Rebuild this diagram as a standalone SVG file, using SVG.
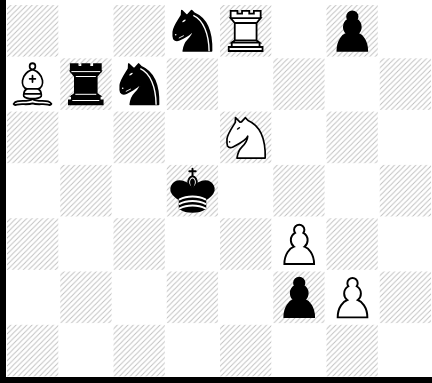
<svg xmlns="http://www.w3.org/2000/svg" width="432" height="383" viewBox="0 0 432 383">
<defs>
<pattern id="h" patternUnits="userSpaceOnUse" width="5.33" height="5.33"><path d="M-1.33 1.33L1.33 -1.33M0 5.33L5.33 0M4 6.66L6.66 4" stroke="#bebebe" stroke-width="0.9" fill="none"/></pattern>
<path id="pawn" d="M22.5 9c-2.21 0-4 1.79-4 4 0 .89.29 1.71.78 2.38C17.33 16.5 16 18.59 16 21c0 2.03.94 3.84 2.41 5.03-3 1.06-7.41 5.55-7.41 13.47h23c0-7.92-4.41-12.41-7.41-13.47 1.47-1.19 2.41-3 2.41-5.03 0-2.41-1.33-4.5-3.28-5.62.49-.67.78-1.49.78-2.38 0-2.21-1.79-4-4-4z" stroke="#000" stroke-width="1.5" stroke-linecap="round"/>
<path id="kn" d="M21.7 19.3C21.5 24 19 27 16 30C13 33 11.5 37 11 41.2L39.2 41.2C39.6 26 37 10 22 3.6L19.3 .8L15.5 5L14 5.2L9.5 .8L9.3 5.5C6 11 1.5 17 1 22C.8 25 .8 27 1.5 29C3 31 5 31 7 30C10 28.5 15 26 18 23.5C19.5 22.3 21 21 21.7 19.3Z" stroke="#000" stroke-width="1.7" stroke-linejoin="round"/>
<g id="wn"><use href="#kn" fill="#fff"/><ellipse cx="12.5" cy="11.5" rx="2" ry=".8" transform="rotate(-35 12.5 11.5)" fill="#000"/><circle cx="3.6" cy="25" r=".8" fill="#000"/></g>
<g id="bn"><use href="#kn" fill="#000"/><ellipse cx="11.7" cy="11" rx="2" ry=".8" transform="rotate(-35 11.7 11)" fill="#fff"/><circle cx="3.4" cy="25" r=".8" fill="#fff"/><path d="M6.5 28.3L11.5 25.8" stroke="#fff" stroke-width=".9" fill="none"/><path d="M21 5.5C31 10 36.6 24 36.8 41.5" stroke="#fff" stroke-width="1.4" fill="none"/></g>
<path id="ro" d="M-16.9 51V47H16.9V51ZM-13.9 47V42.6H13.9V47ZM-13.9 42.6L-10.9 40.4H10.9L13.9 42.6ZM-10.9 40.4V23H10.9V40.4ZM-10.9 23L-15 18.2H15L10.9 23ZM-15 18.2V10.8H-8.2V13.6H-3.6V10.8H3.6V13.6H8.2V10.8H15V18.2Z" stroke="#000" stroke-width="1.8" stroke-linejoin="miter"/>
<g id="wr"><use href="#ro" fill="#fff"/></g>
<g id="br"><use href="#ro" fill="#000"/><path d="M-14.4 18.3H14.4M-10 23.2H10M-10.5 41H10.5M-13.5 47.2H13.5" stroke="#fff" fill="none" stroke-width="1"/></g>
<g id="wb" fill="none" fill-rule="evenodd" stroke="#000" stroke-width="1.5" stroke-linecap="round" stroke-linejoin="round"><g fill="#fff" stroke-linecap="butt"><path d="M9 36c3.39-.97 10.11.43 13.5-2 3.39 2.43 10.11 1.03 13.5 2 0 0 1.65.54 3 2-.68.97-1.65.99-3 .5-3.39-.97-10.11.46-13.5-1-3.39 1.46-10.11.03-13.5 1-1.354.49-2.323.47-3-.5 1.354-1.94 3-2 3-2z"/><path d="M15 32c2.5 2.5 12.5 2.5 15 0 .5-1.5 0-2 0-2 0-2.5-2.5-4-2.5-4 5.5-1.5 6-11.5-5-15.5-11 4-10.5 14-5 15.5 0 0-2.5 1.5-2.5 4 0 0-.5.5 0 2z"/><path d="M25 8a2.5 2.5 0 1 1-5 0 2.5 2.5 0 1 1 5 0z"/></g><path d="M17.5 26h10M15 30h15m-7.5-14.5v5M20 18h5" stroke-linejoin="miter"/></g>
<g id="bk" fill="none" fill-rule="evenodd" stroke="#000" stroke-width="1.5" stroke-linecap="round" stroke-linejoin="round"><path d="M22.5 11.63V6" stroke-linejoin="miter"/><path d="M22.5 25s4.5-7.5 3-10.5c0 0-1-2.5-3-2.5s-3 2.5-3 2.5c-1.5 3 3 10.5 3 10.5" fill="#fff" stroke-linecap="butt" stroke-linejoin="miter"/><path d="M22.5 22.5s2.6-5 1.7-7.3c0 0-.6-1.6-1.7-1.6s-1.7 1.6-1.7 1.6c-.9 2.3 1.7 7.3 1.7 7.3" fill="#000" stroke="none"/><path d="M12.5 37c5.5 3.5 14.5 3.5 20 0v-7s9-4.5 6-10.5c-4-6.5-13.5-3.5-16 4V27v-3.5c-2.5-7.5-12-10.5-16-4-3 6 6 10.5 6 10.5v7" fill="#000"/><path d="M20 8h5" stroke-linejoin="miter"/><path d="M12.5 30c5.5-3 14.5-3 20 0m-20 3.5c5.5-3 14.5-3 20 0m-20 3.5c5.5-3 14.5-3 20 0" stroke="#fff"/></g>
</defs>
<style>.d{fill:url(#h)}.wp{fill:#fff}.bp{fill:#000}</style>
<rect width="432" height="383" fill="#fff"/>
<g id="squares">
<rect class="d" x="7" y="5" width="51.3" height="51.6"/><rect class="d" x="113.5" y="5" width="51.3" height="51.6"/><rect class="d" x="220" y="5" width="51.3" height="51.6"/><rect class="d" x="326.5" y="5" width="51.3" height="51.6"/>
<rect class="d" x="60.25" y="58.3" width="51.3" height="51.6"/><rect class="d" x="166.75" y="58.3" width="51.3" height="51.6"/><rect class="d" x="273.25" y="58.3" width="51.3" height="51.6"/><rect class="d" x="379.75" y="58.3" width="51.3" height="51.6"/>
<rect class="d" x="7" y="111.6" width="51.3" height="51.6"/><rect class="d" x="113.5" y="111.6" width="51.3" height="51.6"/><rect class="d" x="220" y="111.6" width="51.3" height="51.6"/><rect class="d" x="326.5" y="111.6" width="51.3" height="51.6"/>
<rect class="d" x="60.25" y="164.9" width="51.3" height="51.6"/><rect class="d" x="166.75" y="164.9" width="51.3" height="51.6"/><rect class="d" x="273.25" y="164.9" width="51.3" height="51.6"/><rect class="d" x="379.75" y="164.9" width="51.3" height="51.6"/>
<rect class="d" x="7" y="218.2" width="51.3" height="51.6"/><rect class="d" x="113.5" y="218.2" width="51.3" height="51.6"/><rect class="d" x="220" y="218.2" width="51.3" height="51.6"/><rect class="d" x="326.5" y="218.2" width="51.3" height="51.6"/>
<rect class="d" x="60.25" y="271.5" width="51.3" height="51.6"/><rect class="d" x="166.75" y="271.5" width="51.3" height="51.6"/><rect class="d" x="273.25" y="271.5" width="51.3" height="51.6"/><rect class="d" x="379.75" y="271.5" width="51.3" height="51.6"/>
<rect class="d" x="7" y="324.8" width="51.3" height="51.6"/><rect class="d" x="113.5" y="324.8" width="51.3" height="51.6"/><rect class="d" x="220" y="324.8" width="51.3" height="51.6"/><rect class="d" x="326.5" y="324.8" width="51.3" height="51.6"/>
</g>
<g id="frame"><rect x="0" y="0" width="6" height="383" fill="#000"/><rect x="0" y="377" width="432" height="6" fill="#000"/></g>
<g id="black-knight-1" transform="translate(172.3 9.8)"><use href="#bn"/></g>
<g id="white-rook" transform="translate(245.65 0)"><use href="#wr"/></g>
<g id="black-pawn-1" transform="translate(323.3 -0.2) scale(1.29)"><use href="#pawn" class="bp"/></g>
<g id="white-bishop" transform="translate(6.67 56.3) scale(1.148 1.254)"><use href="#wb"/></g>
<g id="black-rook" transform="translate(85.8 53.3)"><use href="#br"/></g>
<g id="black-knight-2" transform="translate(119.3 63.2)"><use href="#bn"/></g>
<g id="white-knight" transform="translate(226 116.9)"><use href="#wn"/></g>
<g id="black-king" transform="translate(163.7 161) scale(1.28)"><use href="#bk"/></g>
<g id="white-pawn-1" transform="translate(270.2 213.1) scale(1.29)"><use href="#pawn" class="wp"/></g>
<g id="black-pawn-2" transform="translate(270.2 266.1) scale(1.29)"><use href="#pawn" class="bp"/></g>
<g id="white-pawn-2" transform="translate(323.5 266.4) scale(1.29)"><use href="#pawn" class="wp"/></g>
</svg>
